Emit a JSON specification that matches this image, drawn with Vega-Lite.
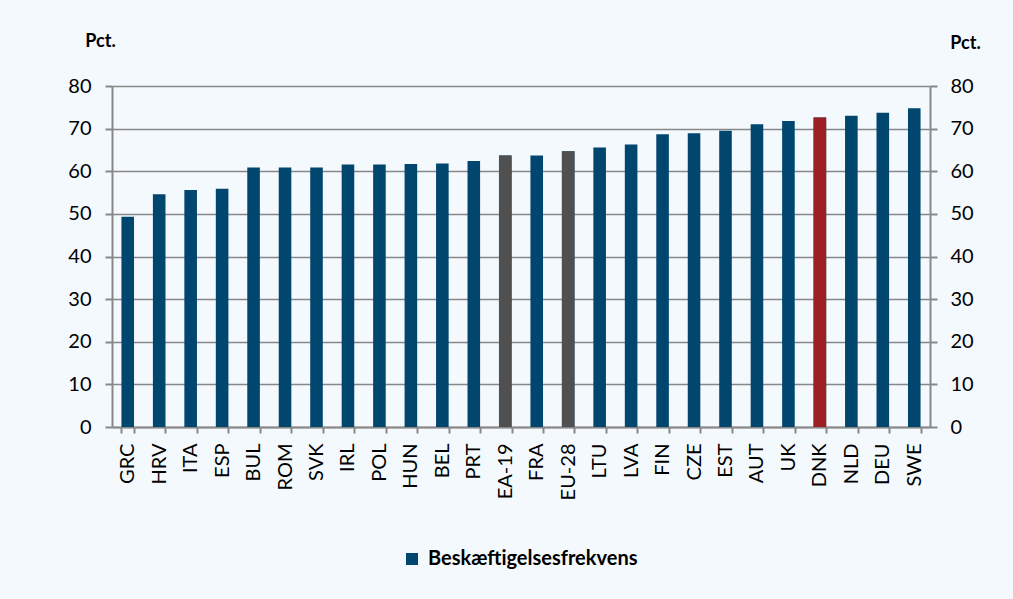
{
  "$schema": "https://vega.github.io/schema/vega-lite/v6.json",
  "width": 818,
  "height": 341,
  "autosize": "none",
  "padding": {"left": 112, "top": 86, "right": 83, "bottom": 172},
  "background": "#F4F9FD",
  "config": {
    "font": "Lato",
    "view": {"stroke": null},
    "axis": {
      "labelFont": "Lato",
      "labelFontSize": 20,
      "labelColor": "#000000",
      "domainColor": "#888888",
      "domainWidth": 2,
      "tickColor": "#888888",
      "tickWidth": 2,
      "gridColor": "#888888",
      "gridWidth": 1.6,
      "titleFont": "Lato",
      "titleFontSize": 18,
      "titleFontWeight": "bold",
      "titleColor": "#000000"
    }
  },
  "data": {
    "values": [
      {"land": "GRC", "value": 49.3, "gruppe": "land", "serie": "Beskæftigelsesfrekvens"},
      {"land": "HRV", "value": 54.6, "gruppe": "land", "serie": "Beskæftigelsesfrekvens"},
      {"land": "ITA", "value": 55.6, "gruppe": "land", "serie": "Beskæftigelsesfrekvens"},
      {"land": "ESP", "value": 55.9, "gruppe": "land", "serie": "Beskæftigelsesfrekvens"},
      {"land": "BUL", "value": 60.9, "gruppe": "land", "serie": "Beskæftigelsesfrekvens"},
      {"land": "ROM", "value": 60.9, "gruppe": "land", "serie": "Beskæftigelsesfrekvens"},
      {"land": "SVK", "value": 60.9, "gruppe": "land", "serie": "Beskæftigelsesfrekvens"},
      {"land": "IRL", "value": 61.6, "gruppe": "land", "serie": "Beskæftigelsesfrekvens"},
      {"land": "POL", "value": 61.6, "gruppe": "land", "serie": "Beskæftigelsesfrekvens"},
      {"land": "HUN", "value": 61.7, "gruppe": "land", "serie": "Beskæftigelsesfrekvens"},
      {"land": "BEL", "value": 61.8, "gruppe": "land", "serie": "Beskæftigelsesfrekvens"},
      {"land": "PRT", "value": 62.4, "gruppe": "land", "serie": "Beskæftigelsesfrekvens"},
      {"land": "EA-19", "value": 63.7, "gruppe": "EU", "serie": "Beskæftigelsesfrekvens"},
      {"land": "FRA", "value": 63.7, "gruppe": "land", "serie": "Beskæftigelsesfrekvens"},
      {"land": "EU-28", "value": 64.7, "gruppe": "EU", "serie": "Beskæftigelsesfrekvens"},
      {"land": "LTU", "value": 65.6, "gruppe": "land", "serie": "Beskæftigelsesfrekvens"},
      {"land": "LVA", "value": 66.3, "gruppe": "land", "serie": "Beskæftigelsesfrekvens"},
      {"land": "FIN", "value": 68.7, "gruppe": "land", "serie": "Beskæftigelsesfrekvens"},
      {"land": "CZE", "value": 68.9, "gruppe": "land", "serie": "Beskæftigelsesfrekvens"},
      {"land": "EST", "value": 69.5, "gruppe": "land", "serie": "Beskæftigelsesfrekvens"},
      {"land": "AUT", "value": 71.0, "gruppe": "land", "serie": "Beskæftigelsesfrekvens"},
      {"land": "UK", "value": 71.8, "gruppe": "land", "serie": "Beskæftigelsesfrekvens"},
      {"land": "DNK", "value": 72.6, "gruppe": "DK", "serie": "Beskæftigelsesfrekvens"},
      {"land": "NLD", "value": 73.0, "gruppe": "land", "serie": "Beskæftigelsesfrekvens"},
      {"land": "DEU", "value": 73.7, "gruppe": "land", "serie": "Beskæftigelsesfrekvens"},
      {"land": "SWE", "value": 74.8, "gruppe": "land", "serie": "Beskæftigelsesfrekvens"}
    ]
  },
  "layer": [
    {
      "mark": {"type": "bar"},
      "encoding": {
        "x": {
          "field": "land", "type": "nominal", "sort": null,
          "scale": {"paddingInner": 0.6, "paddingOuter": 0.3},
          "axis": {"title": null, "labelAngle": -90, "tickBand": "extent", "tickSize": 6, "labelPadding": 10, "grid": false}
        },
        "y": {
          "field": "value", "type": "quantitative",
          "scale": {"domain": [0, 80], "nice": false},
          "axis": {"orient": "left", "values": [0,10,20,30,40,50,60,70,80], "grid": true, "tickSize": 7, "labelPadding": 14,
                   "title": "Pct.", "titleAngle": 0, "titleAlign": "center", "titleBaseline": "bottom", "titleX": -12, "titleY": -36}
        },
        "color": {
          "field": "serie", "type": "nominal",
          "scale": {"range": ["#00466E"]},
          "legend": {"orient": "none", "legendX": 290, "legendY": 463, "title": null, "symbolType": "square", "symbolSize": 144,
                     "symbolStrokeWidth": 0, "labelFont": "Lato", "labelFontSize": 20, "labelFontWeight": "bold", "labelColor": "#000000",
                     "labelOffset": 6, "labelLimit": 400}
        }
      }
    },
    {
      "transform": [{"filter": "datum.gruppe !== 'land'"}],
      "mark": {"type": "bar"},
      "encoding": {
        "x": {"field": "land", "type": "nominal", "sort": null},
        "y": {
          "field": "value", "type": "quantitative",
          "scale": {"domain": [0, 80], "nice": false},
          "axis": {"orient": "right", "values": [0,10,20,30,40,50,60,70,80], "grid": false, "tickSize": 7, "labelPadding": 13,
                   "title": "Pct.", "titleAngle": 0, "titleAlign": "center", "titleBaseline": "bottom", "titleX": 35, "titleY": -34}
        },
        "color": {"condition": {"test": "datum.gruppe === 'EU'", "value": "#505050"}, "value": "#9B1F24"}
      }
    }
  ],
  "resolve": {"scale": {"y": "independent"}}
}
